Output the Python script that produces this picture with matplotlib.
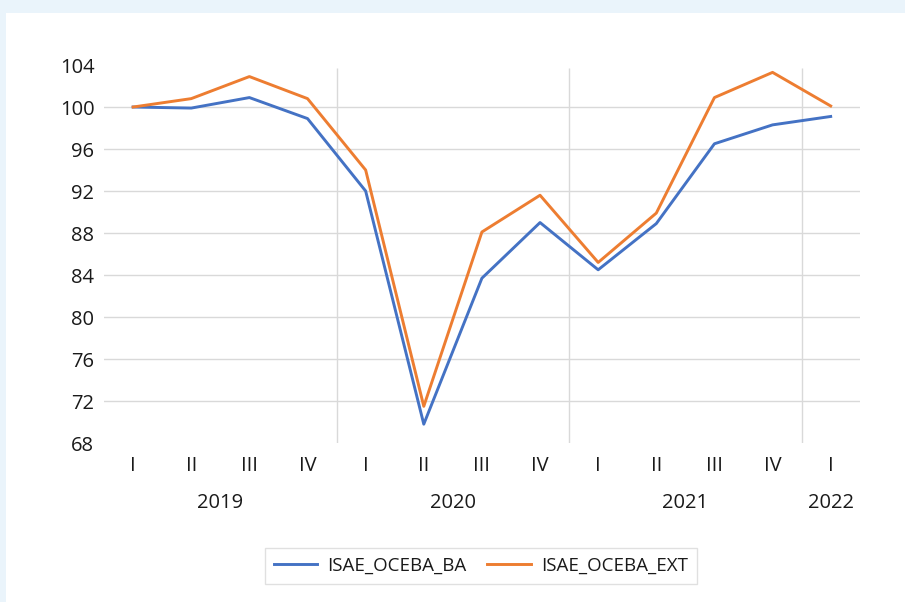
import matplotlib.pyplot as plt
from matplotlib.patches import Rectangle

# data
quarters = ['I', 'II', 'III', 'IV', 'I', 'II', 'III', 'IV', 'I', 'II', 'III', 'IV', 'I']
years = ['2019', '2020', '2021', '2022']
year_pos = [1.5, 5.5, 9.5, 12]
isae_ba = [100.0, 99.9, 100.9, 98.9, 92.0, 69.8, 83.7, 89.0, 84.5, 88.9, 96.5, 98.3, 99.1]
isae_ext = [100.0, 100.8, 102.9, 100.8, 94.0, 71.5, 88.1, 91.6, 85.2, 89.9, 100.9, 103.3, 100.1]

plt.rcParams['font.family'] = ['Open Sans', 'DejaVu Sans']

fig = plt.figure(figsize=(9.05, 6.02), dpi=100, facecolor='#eaf4fb')
# white chart panel on the light blue background
fig.patches.append(Rectangle((6 / 905, 0), 1, 1 - 13 / 602, transform=fig.transFigure,
                             facecolor='white', edgecolor='none', zorder=-10))

ax = fig.add_axes([0.115, 0.264, 0.835, 0.628])
ax.set_facecolor('none')

x = range(len(quarters))
ax.plot(x, isae_ba, color='#4472C4', lw=2.1, label='ISAE_OCEBA_BA', zorder=3)
ax.plot(x, isae_ext, color='#ED7D31', lw=2.1, label='ISAE_OCEBA_EXT', zorder=3)

ax.set_xlim(-0.5, len(quarters) - 0.5)
ax.set_ylim(68, 104)
ax.set_yticks(range(68, 105, 4))
ax.set_xticks(list(x))
ax.set_xticklabels(quarters)

ax.yaxis.grid(True, color='#d9d9d9', lw=1)
gl = ax.get_ygridlines()
gl[0].set_visible(False)
gl[-1].set_visible(False)
for xs in [3.5, 7.5, 11.5]:
    ax.vlines(xs, 68, 103.7, color='#d9d9d9', lw=1, zorder=1)

for s in ax.spines.values():
    s.set_visible(False)
ax.tick_params(axis='both', length=0, labelsize=14.5, colors='#1a1a1a')
ax.tick_params(axis='x', pad=9)
ax.tick_params(axis='y', pad=7)

for yr, xp in zip(years, year_pos):
    ax.text(xp, -0.159, yr, transform=ax.get_xaxis_transform(), ha='center', va='center',
            fontsize=14.5, color='#1a1a1a')

leg = ax.legend(loc='center', bbox_to_anchor=(481 / 905, 1 - 566 / 602),
                bbox_transform=fig.transFigure, ncol=2, frameon=True, fancybox=False,
                fontsize=13.5, handlelength=2.3, handletextpad=0.55, columnspacing=1.1,
                borderpad=0.5)
leg.get_frame().set_edgecolor('#d9d9d9')
for t in leg.get_texts():
    t.set_color('#1a1a1a')

fig.savefig('out.png', dpi=100, facecolor=fig.get_facecolor())
